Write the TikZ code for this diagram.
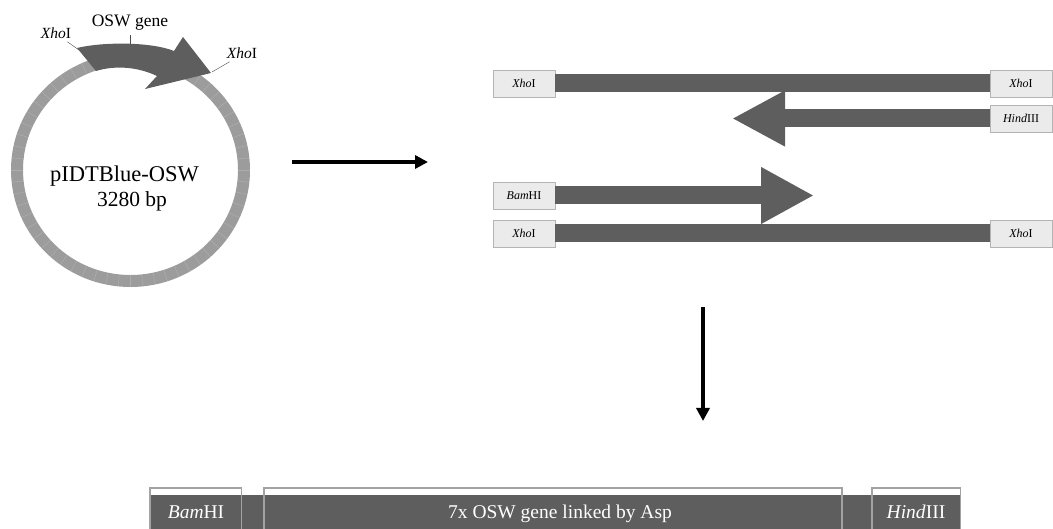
\documentclass[tikz,border=0pt]{standalone}
\usepackage{fontspec}
\setmainfont{Liberation Serif}
\usepackage{tikz}
\usetikzlibrary{shapes, positioning, arrows.meta}

\definecolor{dnagray}{HTML}{5E5E5E}
\definecolor{ringgray}{HTML}{9C9C9C}
\definecolor{boxfill}{HTML}{EBEBEB}
\definecolor{boxline}{HTML}{B4B4B4}
\definecolor{framegray}{HTML}{A2A2A2}

\begin{document}
\begin{tikzpicture}[x=1pt, y=-1pt, semithick]
\tikzstyle{site}=[draw=boxline, fill=boxfill, line width=0.8pt, rectangle, minimum width=62pt, minimum height=27pt, inner sep=0pt, font=\fontsize{12}{14}\selectfont]
\tikzstyle{dnabar}=[draw=dnagray, line width=18pt]
\tikzstyle{flow}=[-{Triangle[length=13pt,width=13pt]}, line width=4pt, black]
\tikzstyle{frame}=[draw=framegray, line width=1.5pt]
\tikzstyle{wlabel}=[text=white, anchor=base, inner sep=0pt, font=\fontsize{19.5}{22}\selectfont]
\tikzstyle{leader}=[draw=black!70, line width=0.4pt]

\useasboundingbox (0,0) rectangle (1053,529);

% plasmid map
\draw[ringgray, line width=12pt] (130.5,170) ellipse [x radius=113.5, y radius=111];
\foreach \a in {0,6,...,354}
  \draw[white, opacity=0.18, line width=0.5pt] ({130.5+107.5*cos(\a)},{170+105*sin(\a)}) -- ({130.5+119.5*cos(\a)},{170+117*sin(\a)});
\fill[dnagray] (77,48) .. controls (104,41.5) and (152,42) .. (174,51) -- (183,37) -- (211,73) -- (145,89) -- (157,76) .. controls (138,67) and (116,65) .. (96,71) -- cycle;

\node[anchor=base, inner sep=0pt, font=\fontsize{17.5}{20}\selectfont] (gene) at (130,26.5) {OSW gene};
\node[anchor=base, inner sep=0pt, font=\fontsize{15.5}{18}\selectfont] (xhoA) at (56,38.3) {\textit{Xho}I};
\node[anchor=base, inner sep=0pt, font=\fontsize{15.5}{18}\selectfont] (xhoB) at (242,58.3) {\textit{Xho}I};
\node[anchor=base, inner sep=0pt, font=\fontsize{22.5}{26}\selectfont] (pname) at (124.5,181.5) {pIDTBlue-OSW};
\node[anchor=base, inner sep=0pt, font=\fontsize{21.5}{26}\selectfont] (psize) at (132,206.5) {3280 bp};

\coordinate (genetick) at (130,35);
\coordinate (genemid) at (130,44);
\coordinate (cutA) at (79,50);
\coordinate (cutB) at (212,72);
\draw[leader] (genetick) -- (genemid);
\draw[leader] ([xshift=-4pt,yshift=-3pt]xhoA.south east) -- (cutA);
\draw[leader] ([xshift=3pt,yshift=-3pt]xhoB.south west) -- (cutB);

% steps
\coordinate (s1) at (292,162);
\coordinate (e1) at (428,162);
\coordinate (s2) at (703,307);
\coordinate (e2) at (703,421);
\draw[flow] (s1) -- (e1);
\draw[flow] (s2) -- (e2);

% PCR fragments
\node[site] (xl1) at (524,83.5) {\textit{Xho}I};
\node[site] (xr1) at (1021,83.5) {\textit{Xho}I};
\node[site] (hr2) at (1021,118.5) {\textit{Hind}III};
\node[site] (bl3) at (524,195.5) {\textit{Bam}HI};
\node[site] (xl4) at (524,233.5) {\textit{Xho}I};
\node[site] (xr4) at (1021,233.5) {\textit{Xho}I};
\coordinate (tip2) at (732,118.5);
\coordinate (tip3) at (814,195.5);

\path
(xl1) edge[dnabar] (xr1)
(hr2) edge[dnabar, -{Triangle[length=53pt,width=52pt]}] (tip2)
(bl3) edge[dnabar, -{Triangle[length=53pt,width=53pt]}] (tip3)
(xl4) edge[dnabar] (xr4);

% construct
\fill[dnagray] (150,495) rectangle (961,545);
\draw[frame] (150,545) |- (241.5,488) -- (241.5,545);
\draw[frame] (264,545) |- (842,488) -- (842,545);
\draw[frame] (872,545) |- (960.5,488) -- (960.5,545);
\node[wlabel] (bam) at (196,518) {\textit{Bam}HI};
\node[wlabel] (osw) at (560,518) {7x OSW gene linked by Asp};
\node[wlabel] (hind) at (916,518) {\textit{Hind}III};

\end{tikzpicture}
\end{document}
